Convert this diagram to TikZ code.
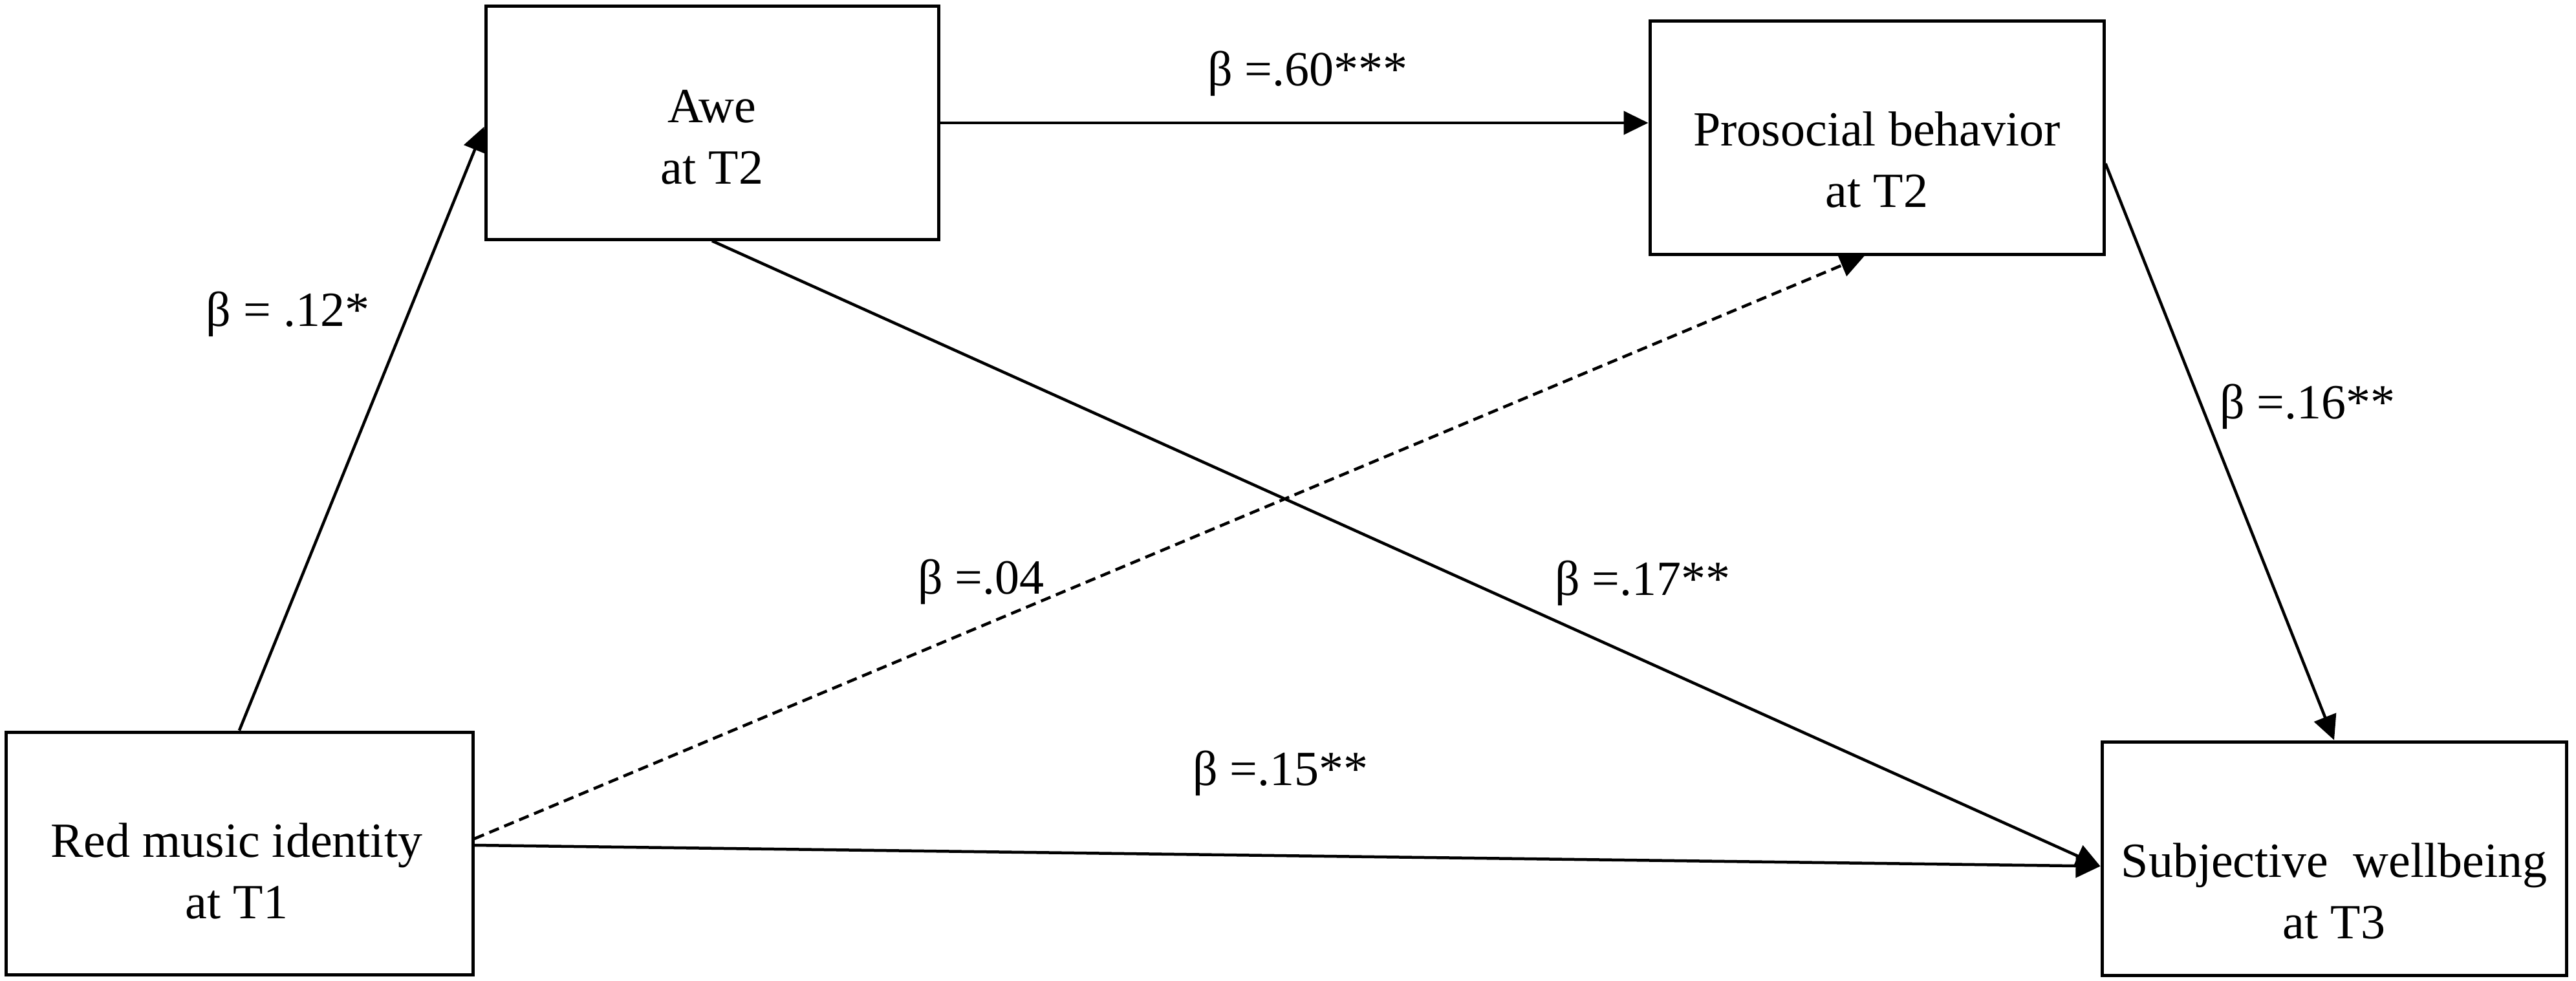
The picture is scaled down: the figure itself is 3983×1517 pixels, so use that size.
\documentclass[tikz,border=0pt]{standalone}
\usepackage{fontspec}
\setmainfont{Liberation Serif}
\usetikzlibrary{arrows.meta}
\begin{document}
\begin{tikzpicture}[x=1pt,y=-1pt,
  every node/.style={font=\fontsize{76}{95}\selectfont},
  varbox/.style={draw,line width=5pt,rectangle,inner sep=0pt},
  boxtext/.style={align=center,inner sep=0pt,anchor=center},
  coef/.style={inner sep=0pt,anchor=base},
  path/.style={line width=4.5pt,-{Triangle[length=38pt,width=36pt]}},
  npath/.style={path,dash pattern=on 16pt off 9pt}]
\useasboundingbox (0,0) rectangle (3983,1517);
\fill[white] (0,0) rectangle (3983,1517);
% boxes
\node[varbox,minimum width=722pt,minimum height=375pt] (red) at (370,1319.5) {};
\node[varbox,minimum width=700pt,minimum height=360pt] (awe) at (1101,190) {};
\node[varbox,minimum width=702pt,minimum height=360pt] (pro) at (2902,213) {};
\node[varbox,minimum width=718pt,minimum height=361pt] (sub) at (3609,1327.5) {};
% box texts
\node[boxtext] (redt) at (366,1347) {Red music identity\\at T1};
\node[boxtext] (awet) at (1101,212) {Awe\\at T2};
\node[boxtext] (prot) at (2902,247) {Prosocial behavior\\at T2};
\node[boxtext] (subt) at (3609,1378) {Subjective\ \ wellbeing\\at T3};
% connectors
\draw[path] (red.north) -- ([yshift=-6pt]awe.west);
\draw[path] (awe.east) -- (awe.east -| pro.west);
\draw[path] (awe.south) -- ([yshift=-12pt]sub.west);
\draw[path] ([yshift=12.5pt]red.east) -- ([yshift=-12pt]sub.west);
\draw[npath] ([yshift=22.5pt]red.east) -- ([xshift=-19pt]pro.south);
\draw[path] ([yshift=-40pt]pro.east) -- (sub.north);
% coefficients
\node[coef] (b12) at (445,504) {β = .12*};
\node[coef] (b60) at (2022,133) {β =.60***};
\node[coef] (b16) at (3568,647) {β =.16**};
\node[coef] (b17) at (2540,920) {β =.17**};
\node[coef] (b04) at (1517,918) {β =.04};
\node[coef] (b15) at (1980,1214) {β =.15**};
\end{tikzpicture}
\end{document}
